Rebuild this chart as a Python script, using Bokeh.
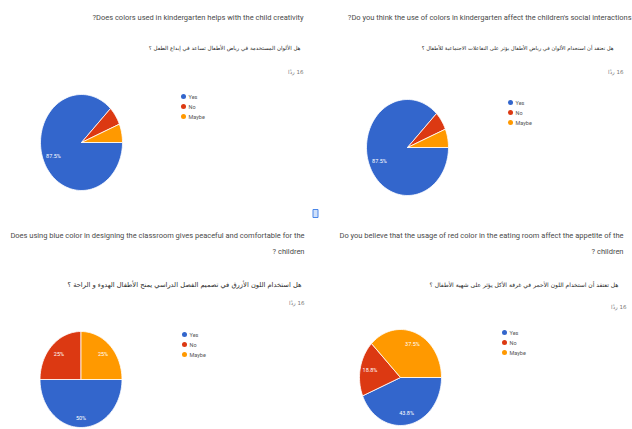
import numpy as np
from bokeh.plotting import figure
from bokeh.models import Range1d
from bokeh.core.properties import value
from bokeh.embed import file_html
from bokeh.resources import INLINE

# ---------------- data ----------------
categories = ["Yes", "No", "Maybe"]
colors = ["#3366cc", "#dc3912", "#ff9900"]

titles_en = [
    ["?Does colors used in kindergarten helps with the child creativity"],
    ["?Do you think the use of colors in kindergarten affect the children's social interactions"],
    ["Does using blue color in designing the classroom gives peaceful and comfortable for the", "? children"],
    ["Do you believe that the usage of red color in the eating room affect the appetite of the", "? children"],
]
titles_ar = [
    "هل الألوان المستخدمة في رياض الأطفال تساعد في إبداع الطفل ؟",
    "هل تعتقد أن استخدام الألوان في رياض الأطفال يؤثر على التفاعلات الاجتماعية للأطفال ؟",
    "هل استخدام اللون الأزرق في تصميم الفصل الدراسي يمنح الأطفال الهدوء و الراحة ؟",
    "هل تعتقد أن استخدام اللون الأحمر في غرفة الأكل يؤثر على شهية الأطفال ؟",
]
# Arabic word, left-to-right mark, then the count (shown as in the RTL page)
responses_label = ["ردًا\u200e 16", "ردًا\u200e 16", "ردًا\u200e 16", "ردًا\u200e 16"]

yes_counts = [14, 14, 8, 7]
no_counts = [1, 1, 4, 3]
maybe_counts = [1, 1, 4, 6]

# ---------------- layout (pixel positions, y downward) ----------------
W, H = 632, 429
panels = [
    dict(title_x=303, title_y=[17], ar_x=300, ar_y=47, ar_size="5.5px", resp_x=303, resp_y=71,
         cx=81, cy=142, leg_x=183, leg_y=96),
    dict(title_x=631, title_y=[17], ar_x=613, ar_y=47, ar_size="5.25px", resp_x=623, resp_y=71,
         cx=407, cy=147, leg_x=510, leg_y=102),
    dict(title_x=304, title_y=[235, 251], ar_x=301, ar_y=284, ar_size="6.7px", resp_x=304, resp_y=302,
         cx=80.5, cy=379, leg_x=184, leg_y=334),
    dict(title_x=623, title_y=[235, 251], ar_x=618, ar_y=284, ar_size="6.0px", resp_x=626, resp_y=306,
         cx=400, cy=377, leg_x=504, leg_y=332),
]
RX, RY = 41, 48

p = figure(width=W, height=H, x_range=Range1d(0, W), y_range=Range1d(H, 0),
           output_backend="svg", toolbar_location=None, min_border=0)
p.axis.visible = False
p.grid.visible = False
p.outline_line_color = None
p.background_fill_color = "white"
p.border_fill_color = "white"

title_font = value("Roboto")
ar_font = value("DejaVu Sans")

for i, pan in enumerate(panels):
    # titles
    p.text(x=[pan["title_x"]] * len(titles_en[i]), y=pan["title_y"], text=titles_en[i],
           text_font=title_font, text_font_size="7.5px", text_align="right",
           text_baseline="middle", text_color="#4a4a4a")
    p.text(x=[pan["ar_x"]], y=[pan["ar_y"]], text=[titles_ar[i]],
           text_font=ar_font, text_font_size=pan["ar_size"], text_align="right",
           text_baseline="middle", text_color="#2a2a2a")
    p.text(x=[pan["resp_x"]], y=[pan["resp_y"]], text=[responses_label[i]],
           text_font=ar_font, text_font_size="5.5px", text_align="right",
           text_baseline="middle", text_color="#777777")

    # pie slices, clockwise from east
    counts = np.array([yes_counts[i], no_counts[i], maybe_counts[i]], dtype=float)
    frac = counts / counts.sum()
    edges = np.concatenate([[0], np.cumsum(frac)]) * 2 * np.pi
    xs, ys, lx, ly, lt = [], [], [], [], []
    for k in range(3):
        a0, a1 = edges[k], edges[k + 1]
        th = np.linspace(a0, a1, max(8, int(120 * frac[k])))
        xs.append(list(np.concatenate([[pan["cx"]], pan["cx"] + RX * np.cos(th)])))
        ys.append(list(np.concatenate([[pan["cy"]], pan["cy"] + RY * np.sin(th)])))
        if frac[k] >= 0.1:
            mid = (a0 + a1) / 2
            r = 0.76 if frac[k] < 0.5 else (0.8 if frac[k] == 0.5 else 0.74)
            lx.append(pan["cx"] + r * RX * np.cos(mid))
            ly.append(pan["cy"] + r * RY * np.sin(mid))
            pct = round(frac[k] * 100, 1)
            lt.append((f"{pct:.1f}".rstrip("0").rstrip(".")) + "%")
    p.patches(xs, ys, fill_color=colors, line_color="white", line_width=0.8)
    p.text(x=lx, y=ly, text=lt, text_font=title_font, text_font_size="5.5px",
           text_align="center", text_baseline="middle", text_color="white")

    # legend
    ly_leg = [pan["leg_y"] + 10 * k for k in range(3)]
    p.scatter(x=[pan["leg_x"]] * 3, y=ly_leg, size=5, color=colors, line_color=None)
    p.text(x=[pan["leg_x"] + 5] * 3, y=ly_leg, text=categories, text_font=title_font,
           text_font_size="5.5px", text_align="left", text_baseline="middle",
           text_color="#555555")

# small icon between panels
p.rect(x=[315], y=[213], width=5, height=8, fill_color="#cfe0fa", line_color="#4a86e8",
       line_width=1)

open("out.html", "w").write(file_html(p, INLINE))
